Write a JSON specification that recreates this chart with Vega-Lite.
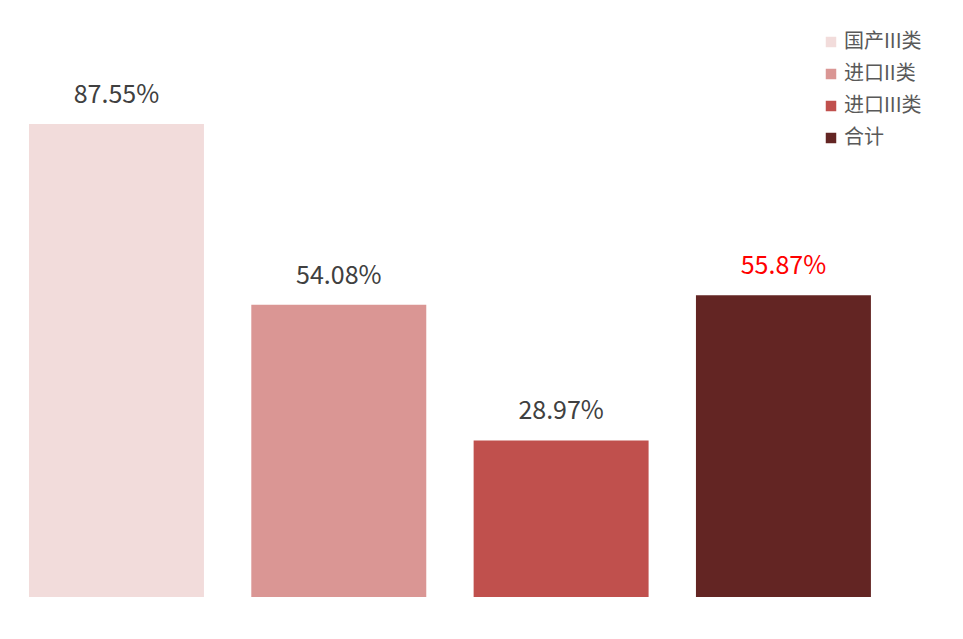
{
  "$schema": "https://vega.github.io/schema/vega-lite/v6.json",
  "width": 963,
  "height": 639,
  "autosize": "none",
  "padding": 0,
  "background": "white",
  "config": {"view": {"stroke": null}, "font": "Noto Sans CJK SC"},
  "data": {"values": [
    {"category": "国产III类", "value": 87.55, "label": "87.55%", "highlight": "no"},
    {"category": "进口II类", "value": 54.08, "label": "54.08%", "highlight": "no"},
    {"category": "进口III类", "value": 28.97, "label": "28.97%", "highlight": "no"},
    {"category": "合计", "value": 55.87, "label": "55.87%", "highlight": "yes"}
  ]},
  "encoding": {
    "x": {"field": "category", "type": "nominal", "sort": null, "axis": null,
      "scale": {"range": [5.3, 894.6], "paddingInner": 0.213, "paddingOuter": 0.1065}},
    "y": {"field": "value", "type": "quantitative", "axis": null,
      "scale": {"domain": [0, 110.5], "range": [597, 0], "nice": false, "zero": true}}
  },
  "layer": [
    {
      "mark": {"type": "bar"},
      "encoding": {
        "color": {"field": "category", "type": "nominal", "sort": null,
          "scale": {"domain": ["国产III类", "进口II类", "进口III类", "合计"], "range": ["#F2DCDB", "#DA9694", "#C0504D", "#632523"]},
          "legend": {"title": null, "orient": "none", "legendX": 821, "legendY": 32,
            "symbolType": "square", "symbolSize": 110, "symbolStrokeWidth": 0,
            "labelFontSize": 20, "labelColor": "#595959", "labelFont": "Noto Sans CJK SC",
            "rowPadding": 12, "labelOffset": 3}
        }
      }
    },
    {
      "mark": {"type": "text", "baseline": "alphabetic", "dy": -21, "fontSize": 25, "font": "Noto Sans CJK SC"},
      "encoding": {
        "text": {"field": "label"},
        "color": {"field": "highlight", "type": "nominal", "scale": {"domain": ["no", "yes"], "range": ["#404040", "#FF0000"]}, "legend": null}
      }
    }
  ],
  "resolve": {"scale": {"color": "independent"}}
}
